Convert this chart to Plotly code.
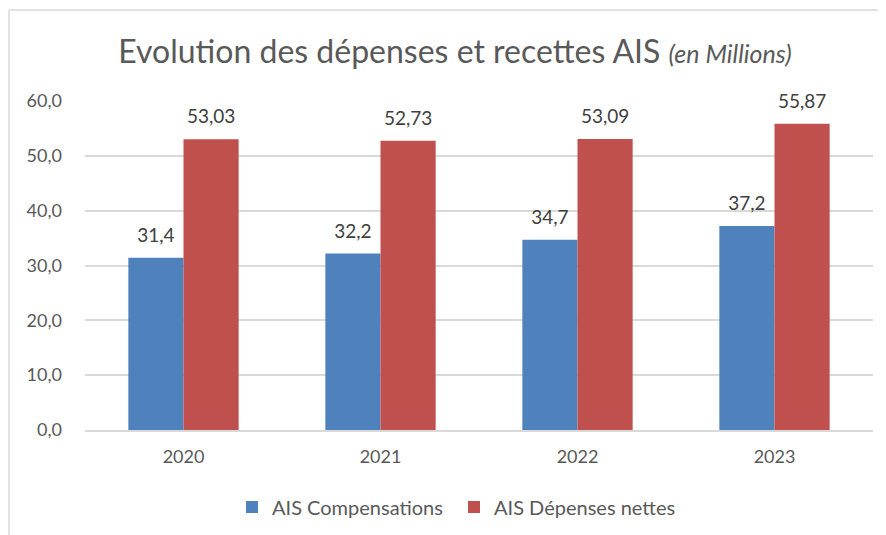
import plotly.graph_objects as go

years = ["2020", "2021", "2022", "2023"]
compensations = [31.4, 32.2, 34.7, 37.2]
depenses_nettes = [53.03, 52.73, 53.09, 55.87]
series_names = ["AIS Compensations", "AIS Dépenses nettes"]
series_colors = ["#4F81BD", "#C0504D"]
tick_vals = [0, 10, 20, 30, 40, 50, 60]

# page body has an 8px margin: figure is sized to fill the rest of the window
W, H = 878, 527
L, R, T, B = 77, 13, 93, 105
pw, ph = W - L - R, H - T - B

FONT = "Lato, Open Sans, sans-serif"
GREY = "#595959"
GAP = 0.44

fig = go.Figure()
for name, vals, col in zip(series_names, [compensations, depenses_nettes], series_colors):
    fig.add_trace(go.Bar(
        x=years, y=vals, name=name,
        marker=dict(color=col, line=dict(width=0)),
        hoverinfo="x+y",
    ))

label_sets = [
    [f"{v:.1f}".replace(".", ",") for v in compensations],
    [f"{v:.2f}".replace(".", ",") for v in depenses_nettes],
]
for name, vals, labels in zip(series_names, [compensations, depenses_nettes], label_sets):
    fig.add_trace(go.Scatter(
        x=years, y=vals, mode="markers+text", text=labels,
        textposition="top center",
        textfont=dict(size=19, color="#404040", family=FONT),
        marker=dict(size=16, opacity=0), showlegend=False, hoverinfo="skip",
        cliponaxis=False, name=name + " labels",
    ))

# chart-area border (top and left visible)
x_left = (1 - L) / pw
y_top = 1 + (T - 2) / ph
fig.add_shape(type="line", xref="paper", yref="paper", x0=x_left, x1=1 + R / pw,
              y0=y_top, y1=y_top, line=dict(color="#D9D9D9", width=1.5))
fig.add_shape(type="line", xref="paper", yref="paper", x0=x_left, x1=x_left,
              y0=y_top, y1=-B / ph, line=dict(color="#D9D9D9", width=1.5))

fig.update_layout(
    width=W, height=H,
    margin=dict(l=L, r=R, t=T, b=B, autoexpand=False),
    paper_bgcolor="white", plot_bgcolor="white",
    font=dict(family=FONT, color=GREY, size=16),
    barmode="group", bargap=GAP, bargroupgap=0,
    scattermode="group", scattergap=GAP,
    title=dict(
        text="Evolution des dépenses et recettes AIS <i><span style='font-size:25px'>(en Millions)</span></i>",
        x=447 / W, xanchor="center", xref="container",
        y=1 - 44 / H, yanchor="middle", yref="container",
        font=dict(size=32, color=GREY, family=FONT),
    ),
    showlegend=True,
    legend=dict(orientation="h", x=446 / W, xref="container", xanchor="center",
                y=1 - 499 / H, yref="container", yanchor="middle",
                font=dict(size=20, color=GREY, family=FONT),
                itemwidth=30, traceorder="normal",
                entrywidth=177, entrywidthmode="pixels"),
    xaxis=dict(showline=True, linecolor="#D9D9D9", linewidth=1.5, ticks="",
               tickfont=dict(size=18, color=GREY), showgrid=False,
               ticklabelstandoff=10),
    yaxis=dict(range=[0, 60], tickvals=tick_vals,
               ticktext=[f"{v:.1f}".replace(".", ",") for v in tick_vals],
               showgrid=True, gridcolor="#D9D9D9", gridwidth=1.5,
               zeroline=False, showline=False, ticks="",
               tickfont=dict(size=18, color=GREY), ticklabelstandoff=22),
)

fig.write_html("out.html")
